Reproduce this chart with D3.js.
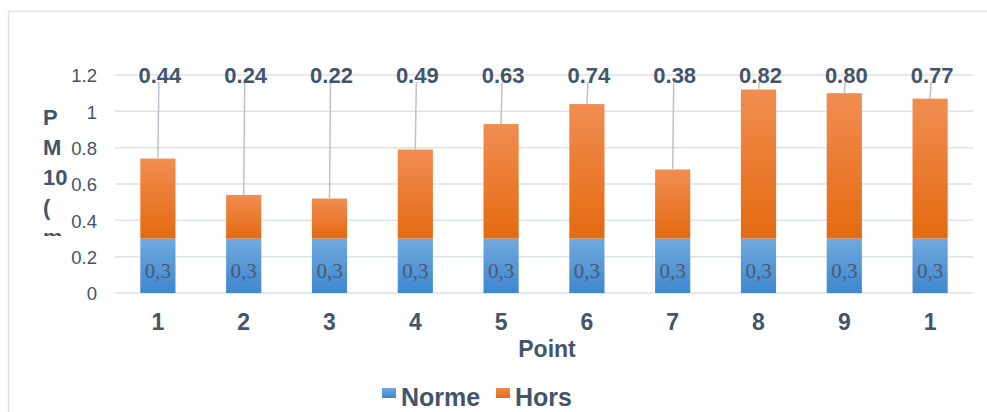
<!DOCTYPE html>
<html><head><meta charset="utf-8">
<script src="https://cdn.jsdelivr.net/npm/d3@7"></script>
<style>body{margin:0;background:#fff}svg{display:block}</style>
</head><body>
<svg id="c" width="987" height="412" font-family="Liberation Sans, Arial, sans-serif"></svg>
<script>
const categories = ["1","2","3","4","5","6","7","8","9","1"];
const norme = [0.3,0.3,0.3,0.3,0.3,0.3,0.3,0.3,0.3,0.3];
const hors = [0.44,0.24,0.22,0.49,0.63,0.74,0.38,0.82,0.80,0.77];
const yTicks = [0,0.2,0.4,0.6,0.8,1,1.2];
const yTickLabels = ["0","0.2","0.4","0.6","0.8","1","1.2"];
const normeLabel = "0,3";
const yTitleLines = ["P","M","10","(","m"];
const xTitle = "Point";
const legendNames = ["Norme","Hors"];

const svg = d3.select("#c");
const textColor = "#44546a";
const sans = "Liberation Sans, Arial, sans-serif";
const defs = svg.append("defs");
const gb = defs.append("linearGradient").attr("id","gBlue").attr("x1",0).attr("y1",0).attr("x2",0).attr("y2",1);
gb.append("stop").attr("offset","0%").attr("stop-color","#70a9de");
gb.append("stop").attr("offset","100%").attr("stop-color","#3f87cf");
const go = defs.append("linearGradient").attr("id","gOrange").attr("x1",0).attr("y1",0).attr("x2",0).attr("y2",1);
go.append("stop").attr("offset","0%").attr("stop-color","#f18d52");
go.append("stop").attr("offset","100%").attr("stop-color","#e46a10");

// frame
svg.append("rect").attr("x",8.5).attr("y",11.5).attr("width",1000).attr("height",420)
  .attr("fill","none").attr("stroke","#dfe3e8").attr("stroke-width",1.5);

const x = d3.scaleBand().domain(d3.range(categories.length)).range([115,973]).paddingInner(0.59).paddingOuter(0.295);
const y = d3.scaleLinear().domain([0,1.2]).range([293,75]);

// gridlines
svg.append("g").selectAll("line").data(yTicks).join("line")
  .attr("x1",115).attr("x2",973).attr("y1",d=>y(d)).attr("y2",d=>y(d))
  .attr("stroke","#dde2e8").attr("stroke-width",1.5);

// y axis labels
const yAxis = d3.axisLeft(y).tickValues(yTicks).tickFormat((d,i)=>yTickLabels[i]).tickSize(0).tickPadding(0);
const ya = svg.append("g").attr("transform","translate(97,0)").call(yAxis);
ya.attr("font-family",sans).attr("font-size",18);
ya.select(".domain").remove();
ya.selectAll("text").attr("font-size",18.5).attr("fill",textColor).attr("dy","0.36em").attr("dx",0);

// x axis labels
const xAxis = d3.axisBottom(x).tickFormat(i=>categories[i]).tickSize(0).tickPadding(0);
const xa = svg.append("g").attr("transform","translate(0,313)").call(xAxis);
xa.attr("font-family",sans).attr("font-size",23);
xa.select(".domain").remove();
xa.selectAll("text").attr("font-size",23).attr("font-weight","bold").attr("fill",textColor).attr("dy","0.72em");

// bars
const bars = svg.append("g");
bars.selectAll("rect.n").data(norme).join("rect").attr("class","n")
  .attr("x",(d,i)=>x(i)).attr("width",x.bandwidth())
  .attr("y",d=>y(d)).attr("height",d=>y(0)-y(d)).attr("fill","url(#gBlue)");
bars.selectAll("rect.h").data(hors).join("rect").attr("class","h")
  .attr("x",(d,i)=>x(i)).attr("width",x.bandwidth())
  .attr("y",(d,i)=>y(norme[i]+d)).attr("height",(d,i)=>y(norme[i])-y(norme[i]+d)).attr("fill","url(#gOrange)");

// norme labels
bars.selectAll("text.nl").data(norme).join("text").attr("class","nl")
  .attr("x",(d,i)=>x(i)+x.bandwidth()/2).attr("y",d=>y(d/2)+12)
  .attr("text-anchor","middle")
  .attr("font-family","Liberation Serif, Times New Roman, serif").attr("font-size",21)
  .attr("fill","#4a5a70").text(normeLabel);

// hors labels with leader lines
const labelCY = y(1.2);
bars.selectAll("line.ll").data(hors).join("line").attr("class","ll")
  .attr("x1",(d,i)=>x(i)+x.bandwidth()/2+1).attr("y1",labelCY+7)
  .attr("x2",(d,i)=>x(i)+x.bandwidth()/2).attr("y2",(d,i)=>y(norme[i]+d))
  .attr("stroke","#b8c3d1").attr("stroke-width",1.5);
bars.selectAll("text.hl").data(hors).join("text").attr("class","hl")
  .attr("x",(d,i)=>x(i)+x.bandwidth()/2+2).attr("y",labelCY+8)
  .attr("text-anchor","middle")
  .attr("font-size",22).attr("font-weight","bold").attr("fill",textColor)
  .text(d=>d.toFixed(2));

// x title
svg.append("text").attr("x",547).attr("y",357).attr("text-anchor","middle")
  .attr("font-size",23).attr("font-weight","bold").attr("fill",textColor).text(xTitle);

// y title (clipped)
defs.append("clipPath").attr("id","ytClip").append("rect").attr("x",30).attr("y",95).attr("width",50).attr("height",141);
const yt = svg.append("g").attr("clip-path","url(#ytClip)");
yt.selectAll("text").data(yTitleLines).join("text")
  .attr("x",43).attr("y",(d,i)=>125+i*30)
  .attr("font-size",22).attr("font-weight","bold").attr("fill",textColor).text(d=>d);

// legend
const legColors = ["url(#gBlue)","url(#gOrange)"];
const legX = [382,496];
const lg = svg.append("g");
legendNames.forEach((n,i)=>{
  lg.append("rect").attr("x",legX[i]).attr("y",388).attr("width",14).attr("height",10).attr("fill",legColors[i]);
  lg.append("text").attr("x",legX[i]+19).attr("y",406).attr("font-size",25).attr("font-weight","bold")
    .attr("fill",textColor).text(n);
});
</script>
</body></html>
